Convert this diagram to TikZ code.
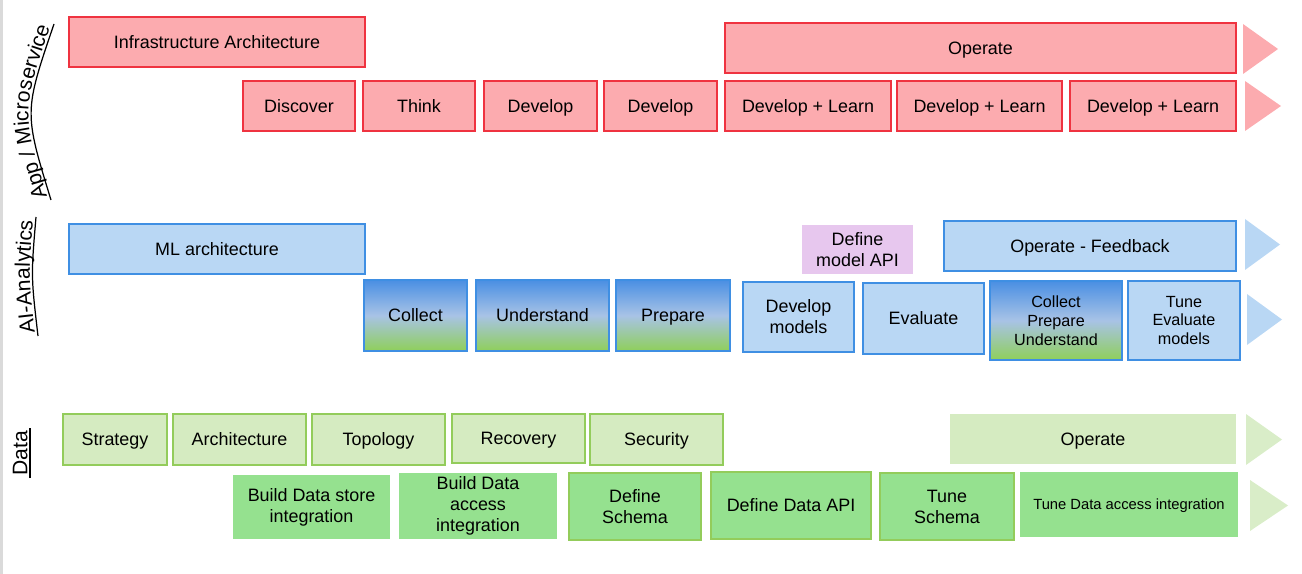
\documentclass[tikz,border=0pt]{standalone}
\usepackage{fontspec}
\setmainfont{Liberation Sans}
\usetikzlibrary{decorations.text}

% Colori
\definecolor{rossoFill}{HTML}{FCABAF}
\definecolor{rossoBordo}{HTML}{EF3340}
\definecolor{bluFill}{HTML}{B9D7F4}
\definecolor{bluBordo}{HTML}{3F8FE3}
\definecolor{sfTop}{HTML}{4A8FE3}
\definecolor{sfMid}{HTML}{A8C3E6}
\definecolor{sfBottom}{HTML}{8FCF5A}
\definecolor{violaFill}{HTML}{E7C7EE}
\definecolor{verdeChiaro}{HTML}{D5EBC1}
\definecolor{verdeBordo}{HTML}{93CC5B}
\definecolor{verdeMedio}{HTML}{95E18F}
\definecolor{verdeFreccia}{HTML}{D9EDC8}
\definecolor{grigio}{HTML}{DADADA}

\newcommand{\fontlato}{\fontsize{12}{14}\selectfont}

\begin{document}
\begin{tikzpicture}[x=0.02cm, y=-0.02cm,
    casella/.style={font=\fontsize{10.2}{12}\selectfont, align=center, inner sep=1pt, line width=1.1pt, text=black, text height=9.2pt, text depth=2pt},
    multi/.style={text height=, text depth=},
    dim/.style 2 args={minimum width=#1*0.02cm, minimum height=#2*0.02cm},
    piccola/.style={multi, font=\fontsize{9.2}{10.8}\selectfont},
    rosso/.style={casella, draw=rossoBordo, fill=rossoFill},
    blu/.style={casella, draw=bluBordo, fill=bluFill},
    sfumato/.style={casella, draw=bluBordo, top color=sfTop, bottom color=sfBottom, middle color=sfMid},
    viola/.style={casella, fill=violaFill},
    verdechiaro/.style={casella, draw=verdeBordo, fill=verdeChiaro},
    verdechiaropieno/.style={casella, fill=verdeChiaro},
    verde/.style={casella, draw=verdeBordo, fill=verdeMedio},
    verdepieno/.style={casella, fill=verdeMedio},
    etichetta/.style={decorate, decoration={text along path, text align=center, raise=1.5pt}},
    sottolinea/.style={line width=0.7pt, black}
]
        % Area della figura
        \useasboundingbox (0,0) rectangle (1302,574);
        \draw[grigio, line width=0.06cm] (1.5,0) -- (1.5,574);

        % --- ETICHETTE LATERALI ---
        \coordinate (appA) at (51,200);
        \coordinate (appB) at (54,24);
        \path[etichetta, decoration={text={|\fontlato|App / Microservice}}] (appA) .. controls (24,112) .. (appB);
        \draw[sottolinea] (appA) .. controls (24,112) .. (appB);

        \coordinate (aiA) at (38,336);
        \coordinate (aiB) at (36,217);
        \path[etichetta, decoration={text={|\fontlato|AI-Analytics}}] (aiA) .. controls (31,276) .. (aiB);
        \draw[sottolinea] (aiA) .. controls (31,276) .. (aiB);

        \coordinate (dataA) at (30,478);
        \coordinate (dataB) at (30,428);
        \path[etichetta, decoration={text={|\fontlato|Data}}] (dataA) -- (dataB);
        \draw[sottolinea] (dataA) -- (dataB);

        % --- Riga App / Microservice ---
        \node[rosso, dim={296}{50}] (infra) at (217,42) {Infrastructure Architecture};
        \node[rosso, dim={511}{50}] (operateApp) at (980.5,48) {Operate};
        \node[rosso, dim={112}{50}] (discover) at (299,106) {Discover};
        \node[rosso, dim={112}{50}] (think) at (419,106) {Think};
        \node[rosso, dim={113}{50}] (developA) at (540.5,106) {Develop};
        \node[rosso, dim={113}{50}] (developB) at (660.5,106) {Develop};
        \node[rosso, dim={166}{50}] (learnA) at (808,106) {Develop + Learn};
        \node[rosso, dim={165}{50}] (learnB) at (979.5,106) {Develop + Learn};
        \node[rosso, dim={166}{50}] (learnC) at (1153,106) {Develop + Learn};

        % --- Riga AI-Analytics ---
        \node[blu, dim={296}{50}] (mlarch) at (217,249) {ML architecture};
        \node[viola, multi, dim={111}{49}] (modelapi) at (857.5,250) {Define\\model API};
        \node[blu, dim={292}{50}] (feedback) at (1090,246) {Operate - Feedback};
        \node[sfumato, dim={103}{71}] (collect) at (415.5,315.5) {Collect};
        \node[sfumato, dim={133}{71}] (understand) at (542.5,315.5) {Understand};
        \node[sfumato, dim={114}{71}] (prepare) at (673,315.5) {Prepare};
        \node[blu, multi, dim={111}{70}] (devmodels) at (798.5,317) {Develop\\models};
        \node[blu, dim={121}{71}] (evaluate) at (923.5,318.5) {Evaluate};
        \node[sfumato, piccola, dim={132}{79}] (cpu) at (1056,320.5) {Collect\\Prepare\\Understand};
        \node[blu, piccola, dim={112}{79}] (tune) at (1184,320.5) {Tune\\Evaluate\\models};

        % --- Riga Data ---
        \node[verdechiaro, dim={104}{51}] (strategy) at (115,439.5) {Strategy};
        \node[verdechiaro, dim={133}{51}] (architecture) at (239.5,439.5) {Architecture};
        \node[verdechiaro, dim={133}{51}] (topology) at (378.5,439.5) {Topology};
        \node[verdechiaro, dim={133}{49}] (recovery) at (518.5,438.5) {Recovery};
        \node[verdechiaro, dim={133}{51}] (security) at (656.5,439.5) {Security};
        \node[verdechiaropieno, dim={286}{50}] (operateData) at (1093,439) {Operate};
        \node[verdepieno, multi, dim={157}{64}] (datastore) at (311.5,507) {Build Data store\\integration};
        \node[verdepieno, multi, dim={158}{66}] (dataaccess) at (478,506) {Build Data\\access\\integration};
        \node[verde, multi, dim={132}{67}] (schema) at (635,506.5) {Define\\Schema};
        \node[verde, dim={160}{67}] (dataapi) at (791,505.5) {Define Data API};
        \node[verde, multi, dim={134}{67}] (tuneschema) at (947,506.5) {Tune\\Schema};
        \node[verdepieno, dim={218}{65}, font=\fontsize{8.4}{10}\selectfont, text height=7.6pt, text depth=1.7pt] (tuneaccess) at (1129,504.5) {Tune Data access integration};

        % --- Frecce finali ---
        \foreach \colore/\xa/\ya/\xb/\yb in {rossoFill/1243/24/1278/74, rossoFill/1245/81/1281/131, bluFill/1245/219/1280/270, bluFill/1247/294/1282/345, verdeFreccia/1246/414/1282/465, verdeFreccia/1250/480/1288/531}
            \fill[\colore] (\xa,\ya) -- (\xb,{(\ya+\yb)/2}) -- (\xa,\yb) -- cycle;

\end{tikzpicture}
\end{document}
